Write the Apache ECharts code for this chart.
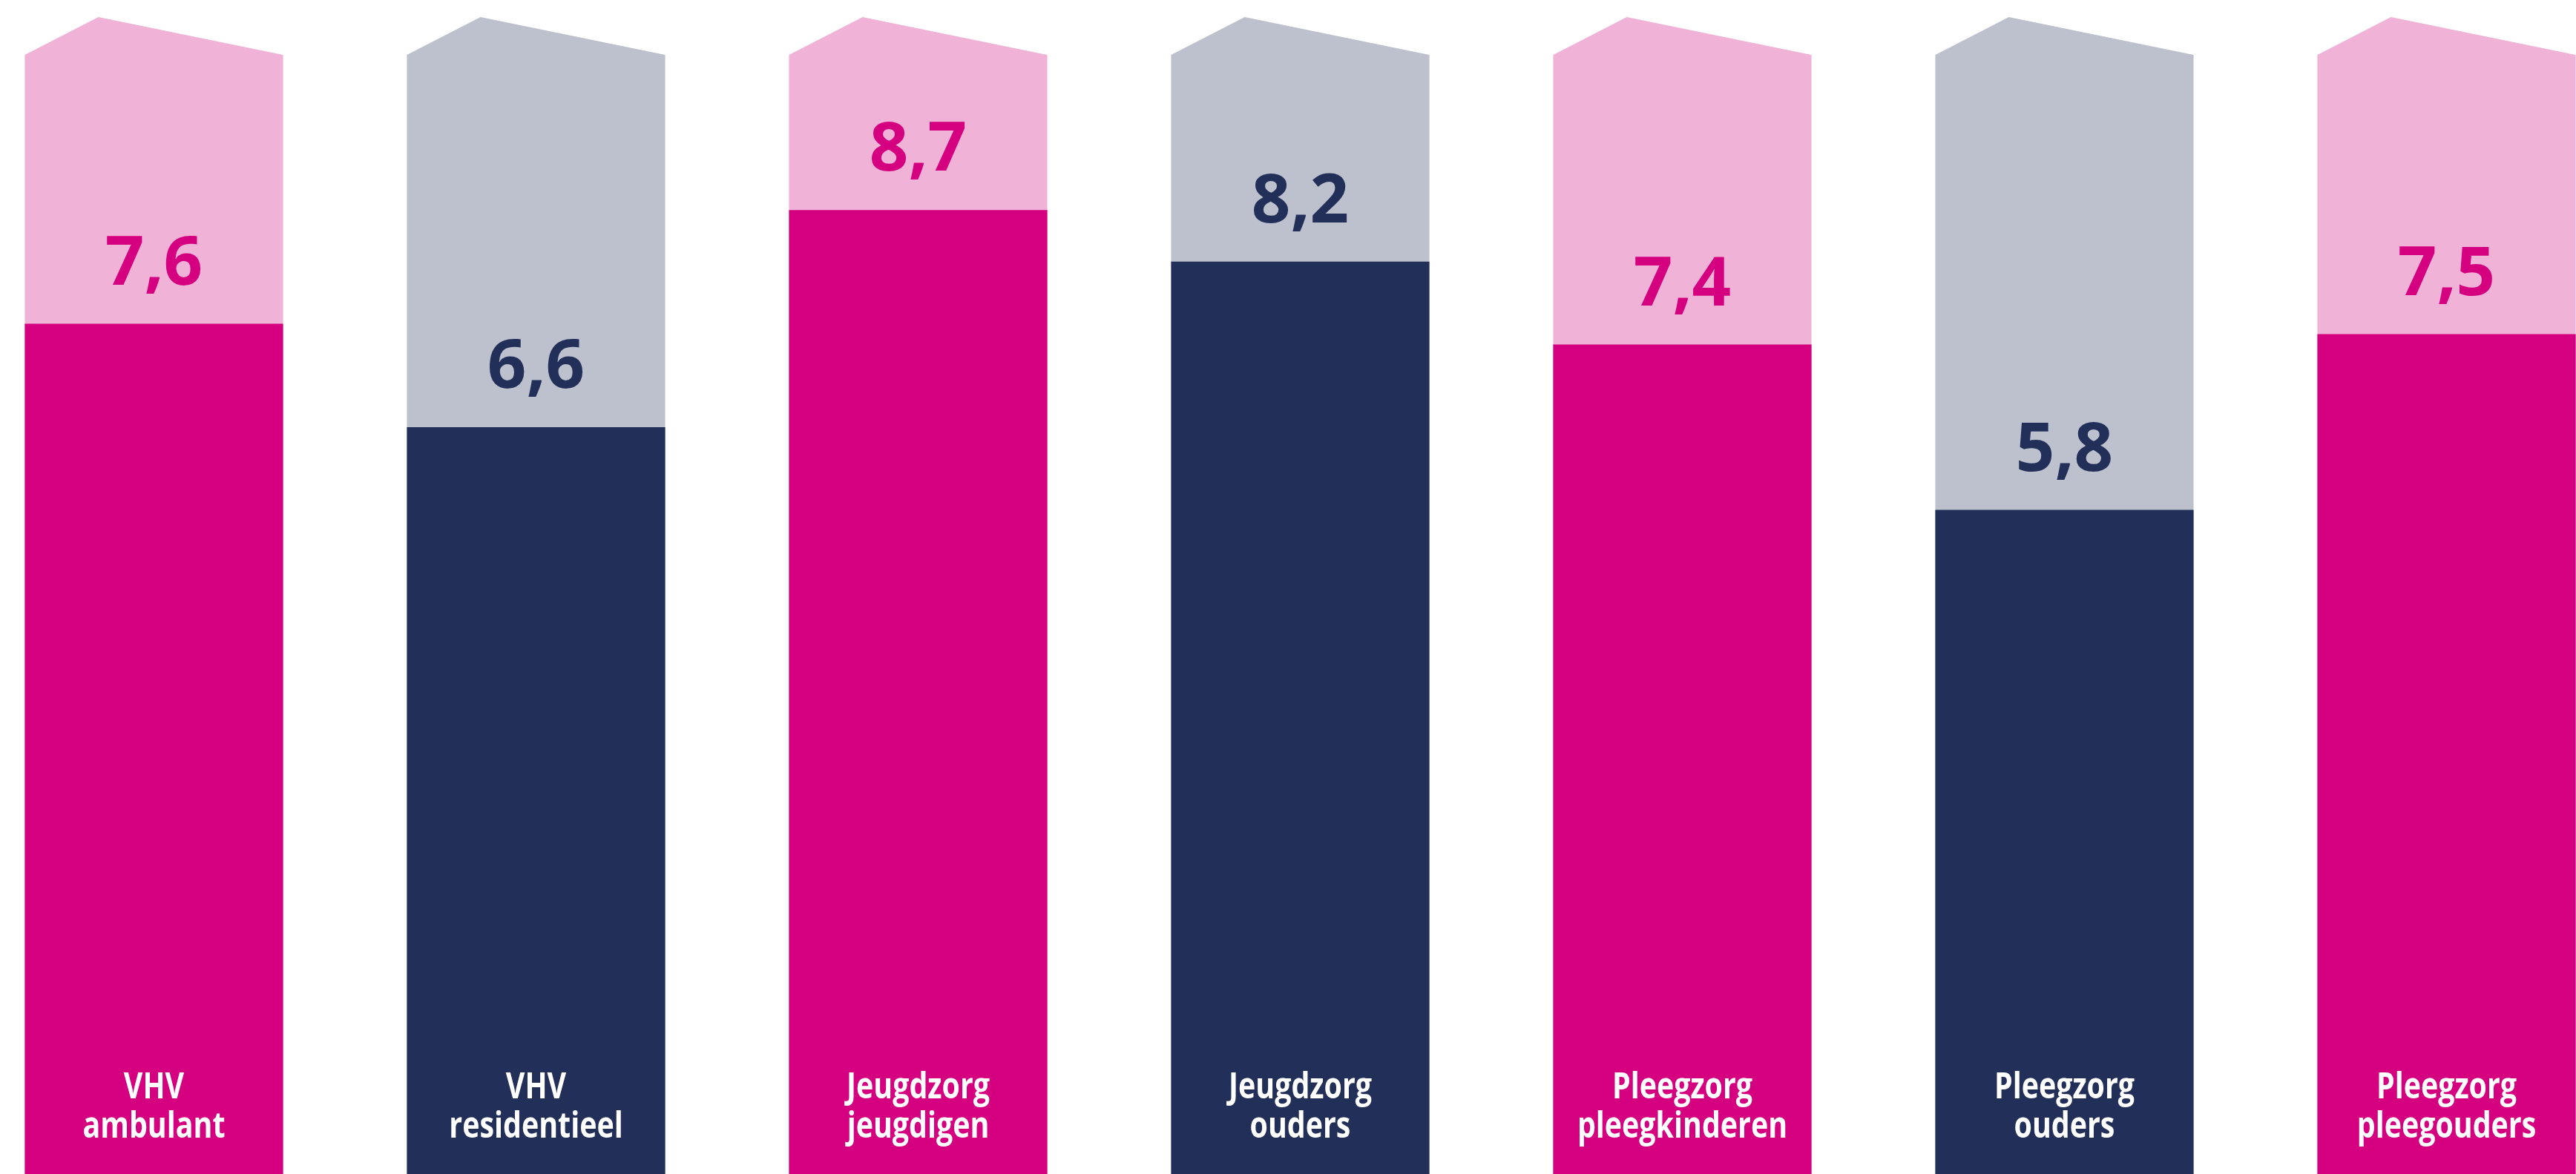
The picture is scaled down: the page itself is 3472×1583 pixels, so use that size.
<!DOCTYPE html>
<html>
<head>
<meta charset="utf-8">
<script src="https://cdn.jsdelivr.net/npm/echarts@6/dist/echarts.min.js"></script>
<style>
html,body{margin:0;padding:0;background:#fff;}
#chart{width:3472px;height:1583px;}
</style>
</head>
<body>
<div id="chart"></div>
<script>
const categories = ['VHV\nambulant','VHV\nresidentieel','Jeugdzorg\njeugdigen','Jeugdzorg\nouders','Pleegzorg\npleegkinderen','Pleegzorg\nouders','Pleegzorg\npleegouders'];
const scores = [7.6, 6.6, 8.7, 8.2, 7.4, 5.8, 7.5];

const Y_MIN = -0.62, Y_MAX = 10.73, FRAME_TOP = 10.2;
const PINK = '#D5007F', PINK_LIGHT = '#F0B3D7';
const NAVY = '#223059', NAVY_LIGHT = '#BDC0CD';
const strong = i => i % 2 === 0 ? PINK : NAVY;
const light = i => i % 2 === 0 ? PINK_LIGHT : NAVY_LIGHT;
const BAR_RATIO = 0.676;

const chart = echarts.init(document.getElementById('chart'));
chart.setOption({
  animation: false,
  grid: {left: -50, right: -83, top: 0, bottom: 0, outerBoundsMode: 'none', containLabel: false},
  xAxis: {
    type: 'category', data: categories,
    axisLine: {show: false}, axisTick: {show: false}, splitLine: {show: false}, axisLabel: {show: false}
  },
  yAxis: {type: 'value', min: Y_MIN, max: Y_MAX, show: false},
  series: [{
    type: 'custom',
    data: scores.map((v, i) => [i, v]),
    renderItem: function (params, api) {
      const i = api.value(0);
      const v = api.value(1);
      const base = api.coord([i, Y_MIN]);
      const frame = api.coord([i, FRAME_TOP]);
      const top = api.coord([i, v]);
      const cx = base[0];
      const w = api.size([1, 0])[0] * BAR_RATIO;
      const x0 = cx - w / 2, x1 = cx + w / 2;
      const lines = categories[i].split('\n');
      const children = [
        {
          type: 'polygon',
          shape: {points: [[x0, base[1]], [x0, frame[1]], [x0 + w * 0.285, frame[1] - 51], [x1, frame[1]], [x1, base[1]]]},
          style: {fill: light(i)}
        },
        {
          type: 'rect',
          shape: {x: x0, y: top[1], width: w, height: base[1] - top[1]},
          style: {fill: strong(i)}
        },
        {
          type: 'text', x: cx, y: top[1] - 79,
          style: {
            text: String(v).replace('.', ','), x: 0, y: 0, align: 'center', verticalAlign: 'middle',
            fill: strong(i), fontFamily: "'Open Sans', sans-serif", fontWeight: 'bold', fontSize: 92
          }
        }
      ];
      lines.forEach((ln, k) => {
        children.push({
          type: 'text', x: cx, y: base[1] - 116 + k * 53, scaleX: 0.82,
          style: {
            text: ln, x: 0, y: 0, align: 'center', verticalAlign: 'middle',
            fill: '#ffffff', fontFamily: "'Open Sans', sans-serif", fontWeight: 'bold', fontSize: 48
          }
        });
      });
      return {type: 'group', children: children};
    }
  }]
});
</script>
</body>
</html>
